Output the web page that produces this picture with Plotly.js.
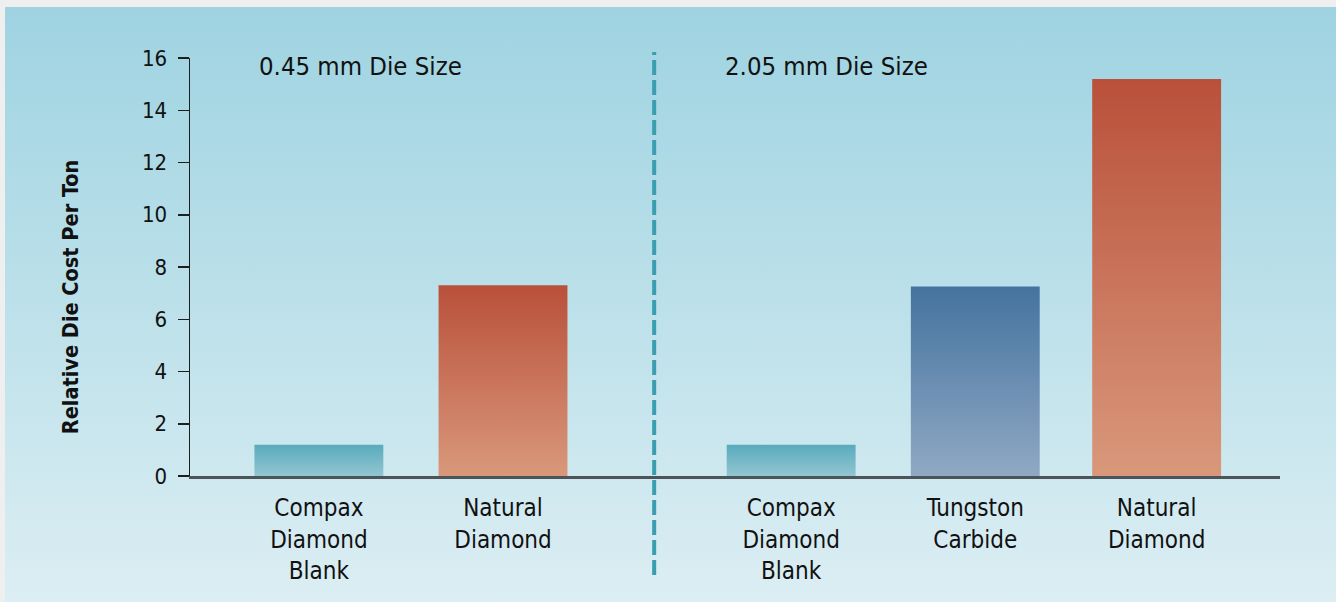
<!DOCTYPE html>
<html>
<head>
<meta charset="utf-8">
<script src="https://cdn.plot.ly/plotly-3.0.1.min.js"></script>
<style>
  html, body { margin: 0; padding: 0; background: #efefef; width: 1336px; height: 602px; overflow: hidden; }
  #panel { position: absolute; left: 5px; top: 7px; width: 1331px; height: 595px;
           background: linear-gradient(to bottom, #9fd3e2 0%, #b9dfe9 45%, #dceef3 100%); }
  #chart { position: absolute; left: 0; top: 0; width: 1336px; height: 602px; }
  text, svg text { font-stretch: condensed !important; }
</style>
</head>
<body>
<div id="panel"></div>
<div id="chart"></div>
<script>
// ---- data ----
const categories = ["Compax<br>Diamond<br>Blank", "Natural<br>Diamond", "Compax<br>Diamond<br>Blank", "Tungston<br>Carbide", "Natural<br>Diamond"];
const positions = [0, 1, 2.565, 3.565, 4.55];
const values = [1.2, 7.3, 1.2, 7.25, 15.2];
const groupTitles = ["0.45 mm Die Size", "2.05 mm Die Size"];
const groupTitleX = [-0.332, 2.201];
const dividerX = 1.821;
const yTicks = [0, 2, 4, 6, 8, 10, 12, 14, 16];

// styles
const barTop = ["#58abbd", "#b9503a", "#58abbd", "#44739f", "#b9503a"];
const barBottom = ["#93c5d1", "#d9987b", "#93c5d1", "#90a8c4", "#d9987b"];
const barMid = ["#75b8c7", "#c9745a", "#75b8c7", "#6a8db1", "#c9745a"];
const FONT = '"DejaVu Sans", sans-serif';

const trace = {
  type: "bar",
  x: positions,
  y: values,
  width: 0.7,
  marker: { color: barMid, line: { width: 0 } },
  hoverinfo: "skip",
  showlegend: false
};

const annotations = groupTitles.map((t, i) => ({
  text: t, x: groupTitleX[i], xref: "x", y: 0.982, yref: "paper",
  xanchor: "left", yanchor: "middle", showarrow: false, borderpad: 0,
  font: { family: FONT, size: 25.5, color: "#111" }
}));
annotations.push({
  text: "<b>Relative Die Cost Per Ton</b>", textangle: -90,
  x: -0.110, xref: "paper", y: 0.428, yref: "paper",
  xanchor: "center", yanchor: "middle", showarrow: false,
  font: { family: FONT, size: 21.5, color: "#111" }
});

const layout = {
  width: 1336, height: 602,
  margin: { l: 190, r: 56, t: 58, b: 126 },
  paper_bgcolor: "rgba(0,0,0,0)",
  plot_bgcolor: "rgba(0,0,0,0)",
  xaxis: {
    range: [-0.70, 5.22],
    tickvals: positions, ticktext: categories,
    showgrid: false, zeroline: false,
    showline: true, linecolor: "#4b5459", linewidth: 2.5,
    ticks: "", ticklabelstandoff: 9,
    tickfont: { family: FONT, size: 24, color: "#111" },
    fixedrange: true
  },
  yaxis: {
    range: [0, 16], tickvals: yTicks,
    showgrid: false, zeroline: false,
    showline: true, linecolor: "#1e1e1e", linewidth: 1.5,
    ticks: "outside", ticklen: 11, tickwidth: 1.5, tickcolor: "#1e1e1e",
    ticklabelstandoff: 6,
    tickfont: { family: FONT, size: 22, color: "#111" },
    fixedrange: true
  },
  shapes: [{
    type: "line", xref: "x", yref: "paper",
    x0: dividerX, x1: dividerX, y0: -0.237, y1: 1.0144,
    line: { color: "#3a9db0", width: 4, dash: "15px,5px" }
  }],
  annotations: annotations
};

Plotly.newPlot("chart", [trace], layout, { staticPlot: true, displayModeBar: false }).then(gd => {
  try {
    const svg = gd.querySelector("svg.main-svg");
    const ns = "http://www.w3.org/2000/svg";
    let defs = svg.querySelector("defs");
    if (!defs) { defs = document.createElementNS(ns, "defs"); svg.insertBefore(defs, svg.firstChild); }
    const paths = gd.querySelectorAll(".barlayer .point path");
    paths.forEach((p, i) => {
      const g = document.createElementNS(ns, "linearGradient");
      g.setAttribute("id", "bargrad" + i);
      g.setAttribute("x1", "0"); g.setAttribute("y1", "0");
      g.setAttribute("x2", "0"); g.setAttribute("y2", "1");
      const s1 = document.createElementNS(ns, "stop");
      s1.setAttribute("offset", "0"); s1.setAttribute("stop-color", barTop[i]);
      const s2 = document.createElementNS(ns, "stop");
      s2.setAttribute("offset", "1"); s2.setAttribute("stop-color", barBottom[i]);
      g.appendChild(s1); g.appendChild(s2);
      defs.appendChild(g);
      p.style.fill = "url(#bargrad" + i + ")";
    });
  } catch (e) {}
});
</script>
</body>
</html>
